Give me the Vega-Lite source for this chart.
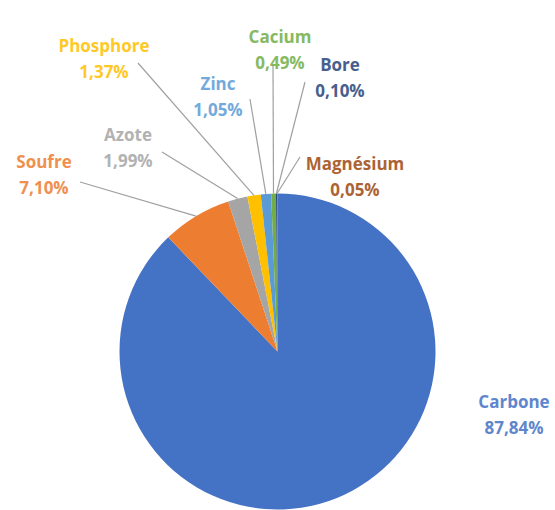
{
  "$schema": "https://vega.github.io/schema/vega-lite/v6.json",
  "width": 555,
  "height": 317,
  "autosize": {"type": "none"},
  "padding": {"top": 193, "left": 0, "right": 0, "bottom": 0},
  "background": "white",
  "config": {"view": {"stroke": null}},
  "data": {"values": [
    {"name": "Carbone", "value": 87.84, "order": 1, "label": "Carbone\n87,84%"},
    {"name": "Soufre", "value": 7.10, "order": 2, "label": "Soufre\n7,10%"},
    {"name": "Azote", "value": 1.99, "order": 3, "label": "Azote\n1,99%"},
    {"name": "Phosphore", "value": 1.37, "order": 4, "label": "Phosphore\n1,37%"},
    {"name": "Zinc", "value": 1.05, "order": 5, "label": "Zinc\n1,05%"},
    {"name": "Cacium", "value": 0.49, "order": 6, "label": "Cacium\n0,49%"},
    {"name": "Bore", "value": 0.10, "order": 7, "label": "Bore\n0,10%"},
    {"name": "Magnésium", "value": 0.05, "order": 8, "label": "Magnésium\n0,05%"}
  ]},
  "layer": [
    {
      "mark": {"type": "arc", "outerRadius": 158},
      "encoding": {
        "theta": {"field": "value", "type": "quantitative", "stack": true},
        "order": {"field": "order", "type": "quantitative"},
        "color": {
          "field": "name", "type": "nominal", "legend": null,
          "scale": {
            "domain": ["Carbone", "Soufre", "Azote", "Phosphore", "Zinc", "Cacium", "Bore", "Magnésium"],
            "range": ["#4472C4", "#ED7D31", "#A5A5A5", "#FFC000", "#5B9BD5", "#70AD47", "#264478", "#9E480E"]
          }
        }
      }
    },
    {
      "transform": [{"filter": "datum.name !== 'Carbone'"}],
      "mark": {"type": "rule", "color": "#A0A0A0", "strokeWidth": 1.2},
      "encoding": {
        "x": {
          "field": "value", "type": "quantitative", "axis": null,
          "scale": {
            "zero": false, "nice": false,
            "domain": [0.05, 0.10, 0.49, 1.05, 1.37, 1.99, 2, 3, 4, 5, 6, 7, 7.10, 8],
            "range": [300, 305, 273, 250, 138, 162, 196.1, 237.6, 253.9, 265.8, 273.5, 276.4, 80, 277.1]
          }
        },
        "x2": {"field": "order"},
        "y": {
          "field": "value", "type": "quantitative", "axis": null,
          "scale": {
            "zero": false, "nice": false,
            "domain": [0.05, 0.10, 0.49, 1.05, 1.37, 1.99, 2, 3, 4, 5, 6, 7, 7.10, 8],
            "range": [-36, -111, -128, -94, -130, -41, 23.1, 5.6, 2.3, 0.9, 0.6, 0.5, -11, 0.5]
          }
        },
        "y2": {"field": "order"}
      }
    },
    {
      "mark": {"type": "text", "font": "Open Sans", "fontSize": 17, "fontWeight": "bold", "lineBreak": "\n", "lineHeight": 26, "align": "center", "baseline": "middle", "opacity": 0.85},
      "encoding": {
        "x": {
          "field": "value", "type": "quantitative", "axis": null,
          "scale": {
            "zero": false, "nice": false,
            "domain": [0.05, 0.10, 0.49, 1.05, 1.37, 1.99, 7.10, 87.84],
            "range": [355, 340, 280, 218, 104, 128, 44, 514]
          }
        },
        "y": {
          "field": "value", "type": "quantitative", "axis": null,
          "scale": {
            "zero": false, "nice": false,
            "domain": [0.05, 0.10, 0.49, 1.05, 1.37, 1.99, 7.10, 87.84],
            "range": [-28, -127.5, -155.5, -108.5, -146.5, -57, -30.5, 209.5]
          }
        },
        "text": {"field": "label"},
        "color": {"field": "name", "type": "nominal", "legend": null}
      }
    }
  ],
  "resolve": {"scale": {"x": "independent", "y": "independent"}}
}
